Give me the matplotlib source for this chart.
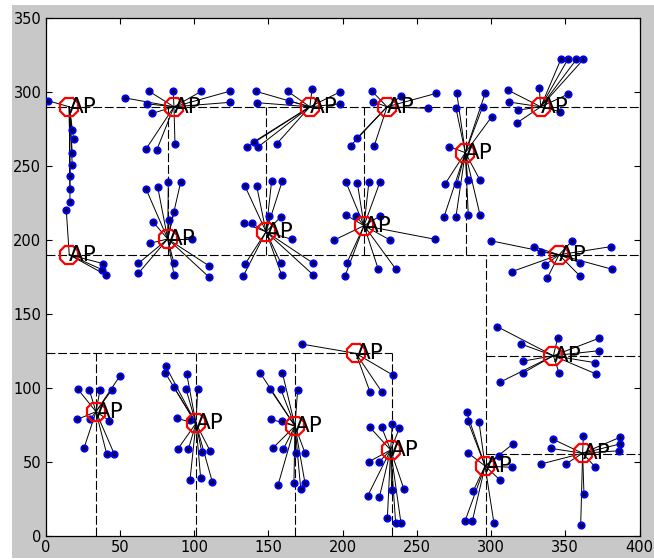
import numpy as np
import matplotlib
matplotlib.use("Agg")
import matplotlib.pyplot as plt
from matplotlib.patches import Rectangle

# posiciones de los AP
ap_x = [16, 16, 86.5, 178, 230, 333.5, 282.7, 82.3, 148.5, 214.5,
        345.8, 209, 342, 34, 101.3, 168, 232.4, 296, 361.7]
ap_y = [290, 190, 290, 290, 290, 290, 259, 200.7, 205.6, 209.7,
        190, 123.4, 121.8, 84, 76.1, 74.3, 58.1, 47.3, 55.9]

# clientes: x, y y el AP al que se conectan
client_x = [
    2, 18, 19, 18, 18, 16.5, 16.5, 16.5,
    14, 39, 38, 40.5,
    53.5, 69.7, 86, 105, 124, 124, 68.6, 72, 67.7, 75, 87.2,
    141.5, 142.2, 163, 164, 179.5, 198.3, 198.3, 136, 140.4, 143.3, 155.7,
    219.7, 220.7, 239.4, 262.8, 257.4, 209.6, 205.5, 221.4,
    311.2, 312.3, 318.4, 317.7, 332.5, 352, 346.5, 347, 351.7, 357.5, 362.2,
    277, 296, 276.4, 294.4, 300.5, 272, 269, 277, 284.3, 292.6, 268.4, 276.4, 284.7, 292.6,
    67.7, 75.6, 82.7, 91, 86.5, 72.2, 83.4, 70.4, 98.4, 62.5, 62.5, 86.5, 86.5, 110.3, 110.3,
    134.3, 142.2, 152.3, 159.5, 133.7, 138.9, 150.7, 158.6, 165.8, 134.3, 133.2, 158.6, 159, 180.3, 180.3,
    202.2, 210, 217.8, 225.3, 202.2, 208.9, 225.3, 194.5, 232, 262.3, 202.8, 201.7, 224.1, 236,
    299.8, 329, 333.5, 354.7, 380.6, 381.7, 359.9, 359.9, 338, 336.4, 313.9,
    172.5, 233.8, 218.5, 226.4,
    304.3, 320.2, 344.9, 372.7, 372.7, 370, 370.7, 345.8, 321.8, 321.8, 306,
    21.7, 29.5, 36.7, 44.6, 50.2, 21.4, 30, 43, 25.9, 41.2, 46.3,
    80.9, 80.5, 86.5, 95.1, 94.6, 102.5, 88.3, 97.3, 89, 96.2, 105.2, 110.8, 97.3, 104.5, 112.3,
    144.4, 159.5, 151.2, 158.4, 169.8, 151.9, 159.1, 153, 160.1, 168.5, 174.7, 156.6, 167.3, 174.7, 171.9,
    218.5, 226.4, 233.5, 238.3, 217.8, 224.8, 217, 224.8, 233.1, 241.4, 230.2, 235.8, 239.4,
    283.6, 284.3, 291.9, 284.3, 305.6, 314.6, 314, 306.1, 288.1, 282.5, 287.4, 302,
    341.5, 340.4, 333.5, 350.3, 362.2, 386.9, 386.9, 386.2, 370, 362.6, 360.4,
]
client_y = [
    294, 274, 268, 259, 251, 243, 234.5, 226,
    220, 184, 180, 176.5,
    296, 300.5, 300.5, 300.5, 300.5, 293, 292, 285.6, 261.5, 261, 265,
    300.5, 292.8, 300.5, 294, 302, 300, 292, 263, 266.4, 263, 265,
    300.7, 293.4, 297.3, 299, 289, 268.7, 263.7, 263.7,
    301.4, 293.2, 287.8, 279.3, 302.5, 298.6, 286.7, 322, 322, 322, 322,
    299, 299, 289, 290, 283.3, 263, 237.8, 237.8, 240.5, 240.5, 215.7, 215.7, 217, 217,
    234.5, 235.6, 239, 239, 219, 212.4, 213.5, 197.8, 200.7, 184.2, 177.5, 184.2, 176.4, 182.4, 174.8,
    236.5, 236.5, 240, 240, 211.3, 211.3, 216.2, 215.8, 200.5, 183.6, 175.7, 184.3, 176.4, 184.3, 176.4,
    239.4, 238.7, 239.4, 239.4, 216.9, 216.4, 216.2, 200, 200, 200.5, 184.2, 175.7, 180.2, 180.2,
    199.5, 195.5, 192.1, 199.5, 195.5, 180.2, 175.7, 184.7, 174.5, 183.1, 178.6,
    129.7, 108.8, 97.5, 97.5,
    141.4, 129.7, 133.6, 133.6, 125.2, 117.1, 109.5, 110.3, 110.3, 118.2, 103.9,
    99.3, 98.6, 98.6, 98.6, 108.3, 78.8, 78.8, 77.9, 59.3, 55.4, 55.4,
    114.9, 110.4, 100.5, 109.5, 99.3, 99.3, 79.5, 78.4, 58.6, 58.6, 57, 57.6, 37.8, 39, 36.7,
    110.4, 110.4, 99.3, 99.3, 98.6, 78.8, 77.9, 59.3, 58.6, 56.3, 56.3, 34.5, 36, 36, 31.6,
    73.4, 73.4, 75.5, 72.8, 50.2, 50.2, 27.2, 26.1, 31.1, 31.6, 12, 8.6, 8.6,
    83.6, 77.9, 77.2, 56.3, 54, 62, 46.4, 37.8, 30.6, 10.1, 10.1, 8.6,
    65.5, 59.2, 48.6, 48.6, 67.6, 66.7, 62.2, 57.6, 46.8, 28.2, 7.4,
]
client_ap = ([0] * 8 + [1] * 4 + [2] * 11 + [3] * 11 + [4] * 8 + [5] * 11 + [6] * 14
             + [7] * 15 + [8] * 15 + [9] * 14 + [10] * 11 + [11] * 4 + [12] * 11
             + [13] * 11 + [14] * 15 + [15] * 15 + [16] * 13 + [17] * 12 + [18] * 11)

# paredes (segmentos punteados)
wall_x0 = [0, 0, 82.3, 148.5, 214.3, 283, 296.3, 0, 233.5, 34, 101.3, 168, 296.3, 296.3]
wall_y0 = [290, 190, 190, 190, 190, 190, 0, 123.4, 0, 0, 0, 0, 121.8, 55.6]
wall_x1 = [400, 400, 82.3, 148.5, 214.3, 283, 296.3, 233.5, 233.5, 34, 101.3, 168, 400, 400]
wall_y1 = [290, 190, 290, 290, 290, 290, 190, 123.4, 123.4, 123.4, 123.4, 123.4, 121.8, 55.6]

fig = plt.figure(figsize=(6.54, 5.6), dpi=100, facecolor="white")
fig.patches.append(Rectangle((12 / 654, 2 / 560), 1, 553 / 560, transform=fig.transFigure,
                             facecolor="#c8c8c8", edgecolor="none", zorder=-10))
ax = fig.add_axes([45.5 / 654, 24 / 560, 594 / 654, 518 / 560])
ax.set_facecolor("white")

for x0, y0, x1, y1 in zip(wall_x0, wall_y0, wall_x1, wall_y1):
    ax.plot([x0, x1], [y0, y1], color="black", lw=0.8, linestyle=(0, (8, 2.5)), zorder=1)

for cx, cy, a in zip(client_x, client_y, client_ap):
    ax.plot([ap_x[a], cx], [ap_y[a], cy], color="black", lw=0.7, zorder=2)

ax.plot(client_x, client_y, "o", ms=4.6, mfc="#000040", mec="#0000ff", mew=1.3,
        linestyle="none", zorder=3)
ax.plot(ap_x, ap_y, "8", ms=14.5, mfc="none", mec="red", mew=1.6,
        linestyle="none", zorder=4)
for x, y in zip(ap_x, ap_y):
    ax.text(x, y, "AP", fontsize=15.5, ha="left", va="center", zorder=5)

ax.set_xlim(0, 400)
ax.set_ylim(0, 350)
ax.set_xticks(np.arange(0, 401, 50))
ax.set_yticks(np.arange(0, 351, 50))
ax.tick_params(direction="in", length=4, width=0.8, top=True, right=True,
               labelsize=10.5, pad=3)
for s in ax.spines.values():
    s.set_linewidth(0.9)

fig.savefig("out.png", dpi=100, facecolor=fig.get_facecolor())
